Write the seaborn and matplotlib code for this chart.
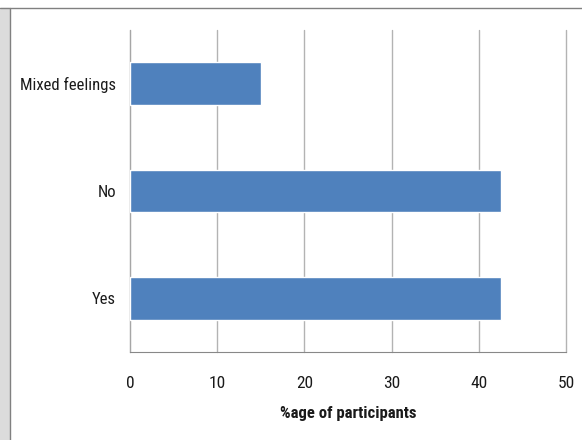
import matplotlib
matplotlib.use("Agg")
import matplotlib.pyplot as plt
from matplotlib.patches import Rectangle
from matplotlib.lines import Line2D
import seaborn as sns
import pandas as pd

# data
responses = ["Mixed feelings", "No", "Yes"]
percent = [15.0, 42.5, 42.5]
x_ticks = [0, 10, 20, 30, 40, 50]

df = pd.DataFrame({"response": responses, "percent": percent})

sns.set_style("white")
plt.rcParams['font.family'] = ['Roboto Condensed', 'Liberation Sans', 'DejaVu Sans']

fig = plt.figure(figsize=(5.82, 4.4), dpi=100)
ax = fig.add_axes([0.2234, 0.2, 0.749, 0.7318])

sns.barplot(data=df, x="percent", y="response", orient="h",
            color="#4F81BD", width=0.4, saturation=1, ax=ax, zorder=3)

ax.set_xlim(0, 50)
ax.set_xticks(x_ticks)
ax.set_xticklabels([str(t) for t in x_ticks])
ax.xaxis.grid(True, color="#b3b3b3", linewidth=1, zorder=0)
for gl in ax.get_xgridlines():
    gl.set_clip_on(False)
ax.set_axisbelow(True)

for s in ["top", "right"]:
    ax.spines[s].set_visible(False)
ax.spines["left"].set_color("#a6a6a6")
ax.spines["bottom"].set_color("#888888")
ax.tick_params(axis="x", length=6, color="#888888", labelsize=12.5,
               labelcolor="#1a1a1a", pad=11)
ax.tick_params(axis="y", length=0, labelsize=12, labelcolor="#1a1a1a", pad=10)
ax.set_ylabel("")
ax.set_xlabel("%age of participants", fontsize=12, fontweight="bold",
              color="#1a1a1a", labelpad=11)

# page frame around the chart
fig.add_artist(Rectangle((0, 0), 9 / 582, 1 - 8 / 440, transform=fig.transFigure,
                         color="#dcdcdc", zorder=-1))
fig.add_artist(Line2D([9.5 / 582, 9.5 / 582], [0, 1 - 8 / 440], transform=fig.transFigure,
                      color="#808080", linewidth=1))
fig.add_artist(Line2D([0, 1], [1 - 8 / 440, 1 - 8 / 440], transform=fig.transFigure,
                      color="#808080", linewidth=1))

fig.savefig("out.png", dpi=100)
plt.close(fig)
